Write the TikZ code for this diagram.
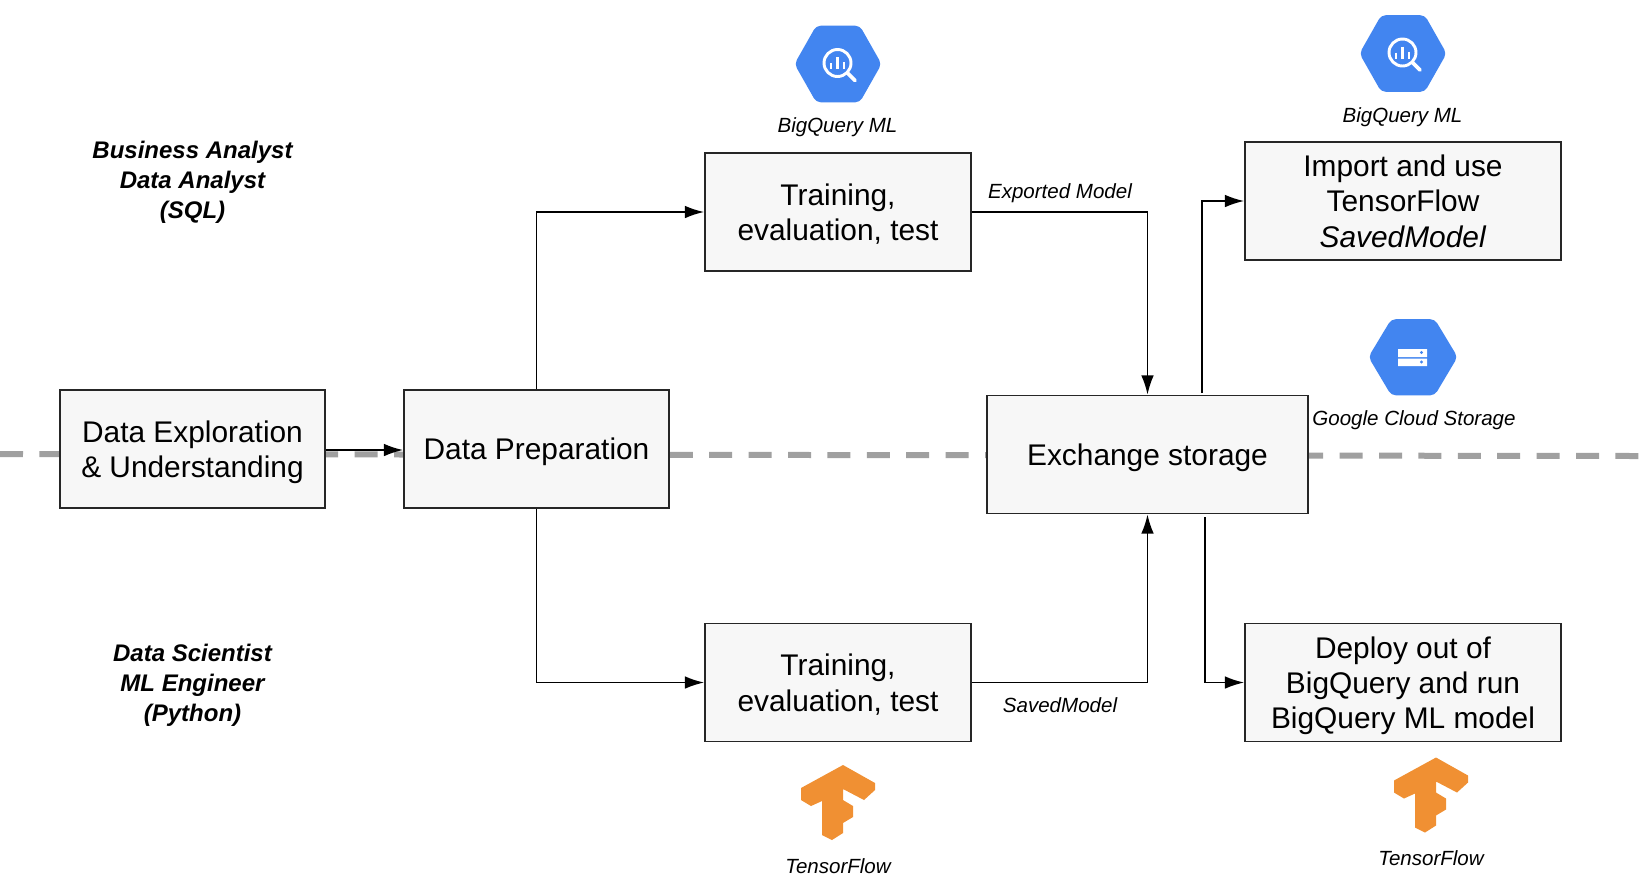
\documentclass[tikz,border=0pt]{standalone}
\usepackage{fontspec}
\setmainfont{Liberation Sans}
\usetikzlibrary{arrows.meta,calc}
\definecolor{boxfill}{HTML}{F7F7F7}
\definecolor{gblue}{HTML}{4285F0}
\definecolor{tforange}{HTML}{F09033}
\definecolor{dashgray}{HTML}{A0A0A0}
\newcommand\boxlines[1]{\raisebox{-8.1pt}[0pt][0pt]{\begin{tabular}{@{}c@{}}#1\end{tabular}}}
\tikzset{
  sized/.style 2 args={minimum width=#1*0.75pt,minimum height=#2*0.75pt},
  stepbox/.style={draw=black!85,line width=1.2pt,fill=boxfill,inner sep=0pt,font=\fontsize{22.4}{26.4}\selectfont},
  link/.style={draw=black,line width=1.4pt,-{Latex[length=14.5pt,width=9.5pt]}},
  roletext/.style={align=center,inner sep=0pt,font=\fontsize{18}{22.6}\selectfont\bfseries\itshape},
  captiontext/.style={inner sep=0pt,font=\fontsize{15.4}{18}\selectfont\itshape},
  hexicon/.style={fill=gblue,draw=gblue,line width=2pt,line join=round},
  glyph/.style={draw=white,line width=2.2pt},
}
\begin{document}
\begin{tikzpicture}[x=0.75pt,y=-0.75pt]
\useasboundingbox (0,0) rectangle (1640,883);
\fill[white] (0,0) rectangle (1640,883);
% swim lane divider
\coordinate (laneL) at (0,454);
\coordinate (laneR) at (1640,456);
\draw[dashgray,line width=4.5pt,dash pattern=on 17.25pt off 12.3pt] (laneL) -- (laneR);
% boxes
\node[stepbox,sized={265}{118}] (explore) at (192.5,449) {\boxlines{Data Exploration\\\& Understanding}};
\node[stepbox,sized={265}{118}] (prep) at (536.5,449) {\boxlines{Data Preparation}};
\node[stepbox,sized={266}{118}] (traintop) at (838,212) {\boxlines{Training,\\evaluation, test}};
\node[stepbox,sized={266}{118}] (trainbot) at (838,682.5) {\boxlines{Training,\\evaluation, test}};
\node[stepbox,sized={321}{118}] (exchange) at (1147.5,454.5) {\boxlines{Exchange storage}};
\node[stepbox,sized={316}{118}] (import) at (1403,201) {\boxlines{Import and use\\TensorFlow\\\textit{SavedModel}}};
\node[stepbox,sized={316}{118}] (deploy) at (1403,682.5) {\boxlines{Deploy out of\\BigQuery and run\\BigQuery ML model}};
% connector free ends
\coordinate (exUp) at (1202,393);
\coordinate (exDown) at (1205,517);
% connectors
\draw[link] (explore.east |- 0,450) -- (prep.west |- 0,450);
\draw[link] (prep.north) |- (traintop.west);
\draw[link] (prep.south) |- (trainbot.west);
\draw[link] (traintop.east) -| (exchange.north);
\draw[link] (trainbot.east) -| (exchange.south);
\draw[link] (exUp) |- (import.west);
\draw[link] (exDown) |- (deploy.west);
% role labels
\node[roletext] (role1) at (192.5,182) {Business Analyst\\Data Analyst\\(SQL)};
\node[roletext] (role2) at (192.5,685) {Data Scientist\\ML Engineer\\(Python)};
% captions
\node[captiontext] (capbq1) at (837.5,127) {BigQuery ML};
\node[captiontext] (capbq2) at (1402.5,117) {BigQuery ML};
\node[captiontext] (capexp) at (1060,193) {Exported Model};
\node[captiontext] (capsaved) at (1060,705) {SavedModel};
\node[captiontext] (capgcs) at (1414,420) {Google Cloud Storage};
\node[captiontext] (captf1) at (838,866) {TensorFlow};
\node[captiontext] (captf2) at (1431,858) {TensorFlow};
% BigQuery icons
\foreach \dx/\dy in {0/0,565/-10.5}{
\begin{scope}[shift={(\dx,\dy)}]
  \draw[hexicon,rounded corners=3pt] (796,64) -- (817,27) -- (859,27) -- (880,64) -- (859,101) -- (817,101) -- cycle;
  \draw[glyph] (837.5,63) circle[radius=13.5];
  \draw[glyph,line width=2.8pt,line cap=round] (847.5,73) -- (855,80.5);
  \draw[white,line width=1.8pt] (831,63) -- (831,69) (837.5,57) -- (837.5,69) (844,62) -- (844,69);
\end{scope}}
% Cloud Storage icon
\draw[hexicon,rounded corners=3pt] (1370,357) -- (1392,320.5) -- (1434,320.5) -- (1456,357) -- (1434,394) -- (1392,394) -- cycle;
\fill[white] (1398,349) rectangle (1427,357) (1398,358.5) rectangle (1427,366);
\fill[gblue] (1421.5,352.5) circle[radius=1.6] (1421.5,362) circle[radius=1.6];
% TensorFlow icons
\foreach \dx/\dy in {0/0,593/-7.5}{
\begin{scope}[shift={(\dx,\dy)}]
  \fill[tforange] (843,765) -- (875,783) -- (875,790) -- (864,800) -- (843,789) -- (843,800) -- (853,806) -- (853,817) -- (843,823) -- (843,833) -- (832,840) -- (822,835) -- (822,801) -- (811,806) -- (801,800) -- (801,788) -- cycle;
\end{scope}}
\end{tikzpicture}
\end{document}
